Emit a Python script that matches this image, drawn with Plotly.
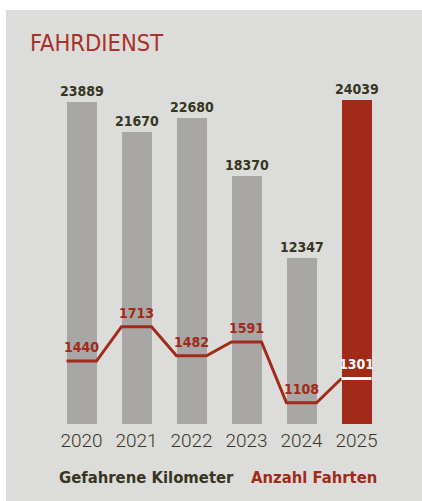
import plotly.graph_objects as go

years = ["2020", "2021", "2022", "2023", "2024", "2025"]
kilometer = [23889, 21670, 22680, 18370, 12347, 24039]
fahrten = [1440, 1713, 1482, 1591, 1108, 1301]

W, H = 422, 501
L, R, T, B = 54, 38, 60, 77
PW = W - L - R
PH = H - T - B

BG = "#dcdcda"
GRAY = "#a8a7a5"
RED = "#a22a18"
DARK = "#38351f"
BAR_W = 30 / 55
hw = BAR_W / 2

def px(x):  # screen x -> paper
    return (x - L) / PW

def py(y):  # screen y -> paper
    return (H - B - y) / PH

idx = list(range(len(years)))
bar_colors = [GRAY] * (len(years) - 1) + [RED]

fig = go.Figure()
fig.add_trace(go.Bar(x=idx, y=kilometer, width=BAR_W, marker=dict(color=bar_colors, line=dict(width=0)),
                     hoverinfo="skip", showlegend=False))

# step-like line: flat over each bar, diagonal between bars (last segment white)
lx, ly = [], []
for i, v in enumerate(fahrten[:-1]):
    lx += [i - hw, i + hw]
    ly += [v, v]
n = len(fahrten) - 1
lx.append(n - hw)
ly.append(fahrten[-1])
fig.add_trace(go.Scatter(x=lx, y=ly, yaxis="y2", mode="lines", line=dict(color=RED, width=3),
                         hoverinfo="skip", showlegend=False))
fig.add_trace(go.Scatter(x=[n - hw, n + hw], y=[fahrten[-1]] * 2, yaxis="y2", mode="lines",
                         line=dict(color="white", width=3), hoverinfo="skip", showlegend=False))

VAL_FONT = "DejaVu Sans Condensed, Liberation Sans Narrow, DejaVu Sans"
ann = []
for i, v in enumerate(kilometer):
    ann.append(dict(x=i, y=v, xref="x", yref="y", text=f"<b>{v}</b>", showarrow=False,
                    yanchor="bottom", yshift=1, font=dict(family=VAL_FONT, size=14, color=DARK)))
for i, v in enumerate(fahrten):
    c = "white" if i == n else RED
    ann.append(dict(x=i, y=v, xref="x", yref="y2", text=f"<b>{v}</b>", showarrow=False,
                    yanchor="bottom", yshift=4, font=dict(family=VAL_FONT, size=14, color=c)))

ann.append(dict(x=px(28), y=py(43), xref="paper", yref="paper", text="FAHRDIENST", showarrow=False,
                xanchor="left", yanchor="middle",
                font=dict(family="Liberation Sans Narrow, DejaVu Sans Condensed", size=23.5, color="#a8322a")))
ann.append(dict(x=px(236), y=py(477), xref="paper", yref="paper", text="<b>Gefahrene Kilometer</b>",
                showarrow=False, xanchor="right", yanchor="middle",
                font=dict(family=VAL_FONT, size=16.5, color=DARK)))
ann.append(dict(x=px(249), y=py(477), xref="paper", yref="paper", text="<b>Anzahl Fahrten</b>",
                showarrow=False, xanchor="left", yanchor="middle",
                font=dict(family=VAL_FONT, size=16.5, color=RED)))

shapes = [
    dict(type="rect", xref="paper", yref="paper", x0=px(0), x1=px(W), y0=py(10), y1=py(0),
         fillcolor="white", line=dict(width=0), layer="above"),
    dict(type="rect", xref="paper", yref="paper", x0=px(0), x1=px(6), y0=py(H), y1=py(0),
         fillcolor="white", line=dict(width=0), layer="above"),
]

fig.update_layout(
    width=W, height=H,
    margin=dict(l=L, r=R, t=T, b=B, pad=0),
    paper_bgcolor=BG, plot_bgcolor=BG,
    bargap=0,
    xaxis=dict(range=[-0.5, 5.5], tickvals=idx, ticktext=years, showgrid=False, zeroline=False,
               showline=False, ticks="", ticklabelstandoff=3,
               tickfont=dict(family="Roboto", size=19, color="#3a3626", weight=300), fixedrange=True),
    yaxis=dict(range=[0, 27007], visible=False, fixedrange=True),
    yaxis2=dict(range=[938.6, 3836], overlaying="y", visible=False, fixedrange=True),
    annotations=ann, shapes=shapes,
)

fig.write_html("out.html", config={"displayModeBar": False},
               post_script="document.body.style.margin='0';document.body.style.overflow='hidden';")
